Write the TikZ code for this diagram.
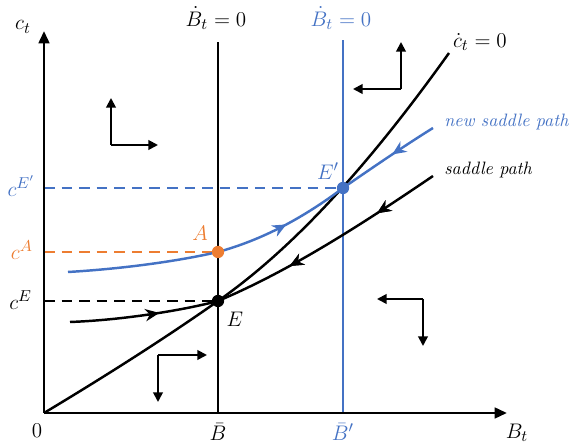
\documentclass[tikz,border=0pt]{standalone}
\usepackage{tikz}
\usepackage{xcolor}
\definecolor{plotBlue}{HTML}{4472C4}
\definecolor{plotOrange}{HTML}{ED7D31}
\usetikzlibrary{arrows.meta,decorations.markings}

\tikzset{
  axisline/.style={line width=1.6pt, -{Triangle[length=7pt,width=6pt]}},
  pathline/.style={line width=1.4pt},
  guideline/.style={line width=1.1pt, dash pattern=on 6pt off 4pt},
  flowarrow/.style={line width=1.1pt, -{Triangle[length=5.5pt,width=5.5pt]}},
  midarrow/.style={postaction={decorate}, decoration={markings,
      mark=at position #1 with {\arrow{Stealth[length=8pt,width=7pt]}}}},
  pointdot/.style={circle, fill, inner sep=0pt, minimum size=7pt},
  pathlabel/.style={anchor=west, inner sep=0pt, font=\fontsize{10.2}{12}\selectfont\itshape},
  axislabel/.style={inner sep=0.5pt},
}

\begin{document}
\begin{tikzpicture}[font=\fontsize{12.5}{15}\selectfont]
  \useasboundingbox (-0.88cm,-0.6cm) rectangle (10.54cm,8.26cm);
  \coordinate (O) at (0cm,0cm);
  \coordinate (ytop) at (0cm,7.64cm);
  \coordinate (xend) at (9.26cm,0cm);
  \coordinate (E) at (3.48cm,2.24cm);
  \coordinate (Ep) at (5.98cm,4.5cm);
  \coordinate (A) at (3.48cm,3.22cm);
  \coordinate (cE) at (0cm,2.24cm);
  \coordinate (cA) at (0cm,3.22cm);
  \coordinate (cEp) at (0cm,4.5cm);
  \coordinate (Bbar) at (3.48cm,0cm);
  \coordinate (Bbartop) at (3.48cm,7.42cm);
  \coordinate (Bbarp) at (5.98cm,0cm);
  \coordinate (Bbarptop) at (5.98cm,7.46cm);
  \coordinate (cdotend) at (8.1cm,7.2cm);
  \coordinate (oldstart) at (0.52cm,1.82cm);
  \coordinate (oldend) at (7.78cm,4.74cm);
  \coordinate (newstart) at (0.48cm,2.82cm);
  \coordinate (newend) at (7.78cm,5.7cm);

  \draw[guideline] (cE) -- (E);
  \draw[guideline, plotOrange] (cA) -- (A);
  \draw[guideline, plotBlue] (cEp) -- (Ep);

  \draw[pathline] (Bbar) -- (Bbartop);
  \draw[pathline, plotBlue] (Bbarp) -- (Bbarptop);
  \node[axislabel] (lblBdot) at (3.44cm,7.9cm) {$\dot{B}_t = 0$};
  \node[axislabel, plotBlue] (lblBdotp) at (5.94cm,7.9cm) {$\dot{B}_t = 0$};

  \draw[pathline] (O) .. controls (1.2cm,0.72cm) and (2.4cm,1.48cm) .. (E)
    .. controls (5.08cm,3.36cm) and (6.6cm,5.1cm) .. (cdotend);
  \node[anchor=west, inner sep=1pt] (lblcdot) at (8.14cm,7.42cm) {$\dot{c}_t = 0$};

  \draw[pathline, midarrow=0.6] (oldstart) .. controls (1.6cm,1.86cm) and (2.8cm,2.06cm) .. (E);
  \draw[pathline, midarrow=0.27, midarrow=0.68] (oldend) .. controls (6.28cm,3.72cm) and (4.88cm,2.83cm) .. (E);
  \draw[pathline, plotBlue, midarrow=0.77] (newstart) .. controls (1.5cm,2.88cm) and (2.6cm,3.02cm) .. (A)
    .. controls (4.38cm,3.47cm) and (5.18cm,3.9cm) .. (Ep);
  \draw[pathline, plotBlue, midarrow=0.45] (newend) .. controls (7.2cm,5.34cm) and (6.5cm,4.86cm) .. (Ep);
  \node[pathlabel, plotBlue] (lblnew) at (8.0cm,5.82cm) {new saddle path};
  \node[pathlabel] (lblold) at (8.0cm,4.86cm) {saddle path};

  \draw[axisline] (O) -- (ytop);
  \draw[axisline] (O) -- (xend);

  \node[pointdot] (dotE) at (E) {};
  \node[pointdot, plotOrange] (dotA) at (A) {};
  \node[pointdot, plotBlue] (dotEp) at (Ep) {};
  \node (lblE) at (3.82cm,1.88cm) {$E$};
  \node[plotOrange] (lblA) at (3.12cm,3.6cm) {$A$};
  \node[plotBlue] (lblEp) at (5.68cm,4.84cm) {$E'$};

  \node[anchor=east, inner sep=1pt] (lblcE) at (-0.2cm,2.26cm) {$c^{E}$};
  \node[anchor=east, inner sep=1pt, plotOrange] (lblcA) at (-0.18cm,3.26cm) {$c^{A}$};
  \node[anchor=east, inner sep=1pt, plotBlue] (lblcEp) at (-0.14cm,4.54cm) {$c^{E'}$};
  \node[axislabel] (lblct) at (-0.42cm,7.72cm) {$c_t$};
  \node[axislabel] (lblzero) at (-0.14cm,-0.36cm) {$0$};
  \node[axislabel] (lblBbar) at (3.48cm,-0.38cm) {$\bar{B}$};
  \node[axislabel, plotBlue] (lblBbarp) at (5.98cm,-0.38cm) {$\bar{B}'$};
  \node[axislabel] (lblBt) at (9.46cm,-0.4cm) {$B_t$};

  \coordinate (f1) at (1.34cm,5.36cm);
  \draw[flowarrow] (f1) -- (1.34cm,6.3cm);
  \draw[flowarrow] (f1) -- (2.28cm,5.36cm);
  \coordinate (f2) at (7.14cm,6.48cm);
  \draw[flowarrow] (f2) -- (7.14cm,7.42cm);
  \draw[flowarrow] (f2) -- (6.18cm,6.48cm);
  \coordinate (f3) at (2.28cm,1.16cm);
  \draw[flowarrow] (f3) -- (2.28cm,0.22cm);
  \draw[flowarrow] (f3) -- (3.26cm,1.16cm);
  \coordinate (f4) at (7.58cm,2.28cm);
  \draw[flowarrow] (f4) -- (6.66cm,2.28cm);
  \draw[flowarrow] (f4) -- (7.58cm,1.34cm);
\end{tikzpicture}
\end{document}
